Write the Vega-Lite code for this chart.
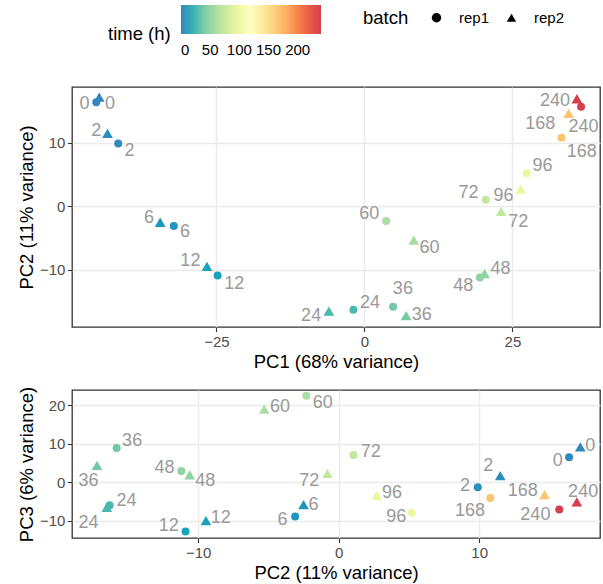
{
  "$schema": "https://vega.github.io/schema/vega-lite/v6.json",
  "padding": {"left": 16, "top": 5, "right": 3, "bottom": 0},
  "config": {
    "font": "Liberation Sans",
    "view": {"stroke": "#333333", "strokeWidth": 1.3},
    "axis": {
      "domain": false, "gridColor": "#EBEBEB", "labelFontSize": 15, "labelColor": "#4D4D4D",
      "titleFontSize": 18.5, "titleFontWeight": "normal", "titleColor": "#000000",
      "tickColor": "#333333", "tickSize": 4.6, "tickWidth": 1.1, "labelPadding": 2.5, "titlePadding": 3,
      "labelOverlap": false, "gridWidth": 1.4
    },
    "legend": {"padding": 0, "titleFontSize": 18.5, "titleFontWeight": "normal", "titleColor": "#000000", "labelFontSize": 15, "labelColor": "#000000"}
  },
  "datasets": {
    "pca": [
      {"time": 0, "batch": "rep1", "PC1": -45.3, "PC2": 16.4, "PC3": 6.5, "L1x": -47.3, "L1y": 16.1, "L2x": 15.6, "L2y": 5.6},
      {"time": 2, "batch": "rep1", "PC1": -41.6, "PC2": 9.9, "PC3": -1.3, "L1x": -39.7, "L1y": 8.76, "L2x": 9.0, "L2y": -0.9},
      {"time": 6, "batch": "rep1", "PC1": -32.2, "PC2": -3.1, "PC3": -8.9, "L1x": -30.3, "L1y": -4.0, "L2x": -4.0, "L2y": -9.7},
      {"time": 12, "batch": "rep1", "PC1": -24.8, "PC2": -10.9, "PC3": -12.8, "L1x": -22.0, "L1y": -12.2, "L2x": -12.1, "L2y": -11.5},
      {"time": 24, "batch": "rep1", "PC1": -1.86, "PC2": -16.3, "PC3": -6.0, "L1x": 0.96, "L1y": -15.2, "L2x": -15.1, "L2y": -5.0},
      {"time": 36, "batch": "rep1", "PC1": 4.85, "PC2": -15.8, "PC3": 8.9, "L1x": 6.5, "L1y": -13.0, "L2x": -14.7, "L2y": 10.7},
      {"time": 48, "batch": "rep1", "PC1": 19.5, "PC2": -11.2, "PC3": 2.9, "L1x": 16.7, "L1y": -12.5, "L2x": -12.4, "L2y": 3.8},
      {"time": 60, "batch": "rep1", "PC1": 3.67, "PC2": -2.3, "PC3": 22.5, "L1x": 0.8, "L1y": -1.2, "L2x": -1.14, "L2y": 20.5},
      {"time": 72, "batch": "rep1", "PC1": 20.5, "PC2": 1.05, "PC3": 7.1, "L1x": 17.6, "L1y": 2.1, "L2x": 2.28, "L2y": 7.9},
      {"time": 96, "batch": "rep1", "PC1": 27.4, "PC2": 5.2, "PC3": -7.9, "L1x": 30.1, "L1y": 6.3, "L2x": 4.1, "L2y": -9.0},
      {"time": 168, "batch": "rep1", "PC1": 33.3, "PC2": 10.8, "PC3": -4.1, "L1x": 36.7, "L1y": 8.6, "L2x": 9.35, "L2y": -7.5},
      {"time": 240, "batch": "rep1", "PC1": 36.6, "PC2": 15.7, "PC3": -7.1, "L1x": 37.0, "L1y": 12.5, "L2x": 14.0, "L2y": -8.6},
      {"time": 0, "batch": "rep2", "PC1": -44.8, "PC2": 17.2, "PC3": 9.2, "L1x": -43.0, "L1y": 16.1, "L2x": 17.9, "L2y": 9.5},
      {"time": 2, "batch": "rep2", "PC1": -43.4, "PC2": 11.5, "PC3": 1.7, "L1x": -45.3, "L1y": 11.9, "L2x": 10.65, "L2y": 4.3},
      {"time": 6, "batch": "rep2", "PC1": -34.5, "PC2": -2.5, "PC3": -5.8, "L1x": -36.4, "L1y": -1.8, "L2x": -1.8, "L2y": -6.0},
      {"time": 12, "batch": "rep2", "PC1": -26.6, "PC2": -9.45, "PC3": -10.0, "L1x": -29.4, "L1y": -8.6, "L2x": -8.4, "L2y": -9.3},
      {"time": 24, "batch": "rep2", "PC1": -6.0, "PC2": -16.5, "PC3": -6.5, "L1x": -9.0, "L1y": -17.2, "L2x": -17.8, "L2y": -10.6},
      {"time": 36, "batch": "rep2", "PC1": 7.05, "PC2": -17.2, "PC3": 4.4, "L1x": 9.7, "L1y": -17.1, "L2x": -17.8, "L2y": 0.44},
      {"time": 48, "batch": "rep2", "PC1": 20.3, "PC2": -10.6, "PC3": 1.9, "L1x": 23.0, "L1y": -9.8, "L2x": -9.5, "L2y": 0.2},
      {"time": 60, "batch": "rep2", "PC1": 8.34, "PC2": -5.3, "PC3": 19.0, "L1x": 11.0, "L1y": -6.5, "L2x": -4.18, "L2y": 19.7},
      {"time": 72, "batch": "rep2", "PC1": 23.1, "PC2": -0.8, "PC3": 2.3, "L1x": 26.0, "L1y": -2.5, "L2x": -2.1, "L2y": 0.36},
      {"time": 96, "batch": "rep2", "PC1": 26.4, "PC2": 2.7, "PC3": -3.4, "L1x": 23.5, "L1y": 1.6, "L2x": 3.8, "L2y": -2.7},
      {"time": 168, "batch": "rep2", "PC1": 34.5, "PC2": 14.65, "PC3": -3.2, "L1x": 29.7, "L1y": 12.9, "L2x": 13.1, "L2y": -2.25},
      {"time": 240, "batch": "rep2", "PC1": 35.9, "PC2": 16.95, "PC3": -5.1, "L1x": 32.2, "L1y": 16.6, "L2x": 17.4, "L2y": -2.5}
    ]
  },
  "data": {"name": "pca"},
  "spacing": 13,
  "vconcat": [
    {
      "width": 528, "height": 240,
      "encoding": {
        "color": {"field": "time", "type": "quantitative", "title": "time (h)",
          "scale": {"type": "linear", "domain": [0, 30, 60, 90, 120, 150, 180, 210, 240],
            "range": ["#3288BD", "#66C2A5", "#ABDDA4", "#E6F598", "#FFFFBF", "#FEE08B", "#FDAE61", "#F46D43", "#D53E4F"]},
          "legend": {"orient": "none", "legendX": 36, "legendY": -82, "direction": "horizontal",
            "titleOrient": "left", "titlePadding": 10, "titleBaseline": "middle", "titleAnchor": "end",
            "gradientLength": 140, "gradientThickness": 29, "gradientStrokeWidth": 0,
            "values": [0, 50, 100, 150, 200], "labelOverlap": false, "labelOffset": 9}},
        "shape": {"field": "batch", "type": "nominal", "title": "batch",
          "scale": {"domain": ["rep1", "rep2"], "range": ["circle", "triangle-up"]},
          "legend": {"orient": "none", "legendX": 291, "legendY": -77, "direction": "horizontal",
            "titleOrient": "left", "titlePadding": 20, "symbolSize": 90, "symbolFillColor": "#000000",
            "symbolStrokeWidth": 0, "labelOffset": 15, "columnPadding": 14, "symbolOffset": 0}}
      },
      "layer": [
        {
          "transform": [{"filter": "datum.batch === 'rep1'"}],
          "mark": {"type": "point", "filled": true, "opacity": 1, "size": 64},
          "encoding": {
            "x": {"field": "PC1", "type": "quantitative", "title": "PC1 (68% variance)",
              "scale": {"domain": [-49.4, 39.8], "nice": false, "zero": false},
              "axis": {"values": [-25, 0, 25]}},
            "y": {"field": "PC2", "type": "quantitative", "title": "PC2 (11% variance)",
              "scale": {"domain": [-19.0, 18.8], "nice": false, "zero": false},
              "axis": {"values": [-10, 0, 10]}}
          }
        },
        {
          "transform": [{"filter": "datum.batch === 'rep2'"}],
          "mark": {"type": "point", "filled": true, "opacity": 1, "size": 115},
          "encoding": {
            "x": {"field": "PC1", "type": "quantitative", "axis": null},
            "y": {"field": "PC2", "type": "quantitative", "axis": null}
          }
        },
        {
          "mark": {"type": "text", "fontSize": 18, "color": "#999999", "baseline": "middle", "align": "center"},
          "encoding": {
            "x": {"field": "L1x", "type": "quantitative",
              "axis": {"values": [-37.5, -12.5, 12.5, 37.5], "labels": false, "ticks": false, "domain": false, "title": null, "gridWidth": 0.7}},
            "y": {"field": "L1y", "type": "quantitative",
              "axis": {"values": [-15, -5, 5, 15], "labels": false, "ticks": false, "domain": false, "title": null, "gridWidth": 0.7}},
            "text": {"field": "time", "type": "nominal"},
            "color": {"value": "#999999"},
            "shape": {"value": "circle"}
          }
        }
      ],
      "resolve": {"axis": {"x": "independent", "y": "independent"}}
    },
    {
      "width": 528, "height": 148,
      "encoding": {
        "color": {"field": "time", "type": "quantitative", "title": "time (h)"},
        "shape": {"field": "batch", "type": "nominal", "title": "batch"}
      },
      "layer": [
        {
          "transform": [{"filter": "datum.batch === 'rep1'"}],
          "mark": {"type": "point", "filled": true, "opacity": 1, "size": 64},
          "encoding": {
            "x": {"field": "PC2", "type": "quantitative", "title": "PC2 (11% variance)",
              "scale": {"domain": [-18.98, 18.6], "nice": false, "zero": false},
              "axis": {"values": [-10, 0, 10]}},
            "y": {"field": "PC3", "type": "quantitative", "title": "PC3 (6% variance)",
              "scale": {"domain": [-14.5, 24.0], "nice": false, "zero": false},
              "axis": {"values": [-10, 0, 10, 20]}}
          }
        },
        {
          "transform": [{"filter": "datum.batch === 'rep2'"}],
          "mark": {"type": "point", "filled": true, "opacity": 1, "size": 115},
          "encoding": {
            "x": {"field": "PC2", "type": "quantitative", "axis": null},
            "y": {"field": "PC3", "type": "quantitative", "axis": null}
          }
        },
        {
          "mark": {"type": "text", "fontSize": 18, "color": "#999999", "baseline": "middle", "align": "center"},
          "encoding": {
            "x": {"field": "L2x", "type": "quantitative",
              "axis": {"values": [-15, -5, 5, 15], "labels": false, "ticks": false, "domain": false, "title": null, "gridWidth": 0.7}},
            "y": {"field": "L2y", "type": "quantitative",
              "axis": {"values": [-5, 5, 15], "labels": false, "ticks": false, "domain": false, "title": null, "gridWidth": 0.7}},
            "text": {"field": "time", "type": "nominal"},
            "color": {"value": "#999999"},
            "shape": {"value": "circle"}
          }
        }
      ],
      "resolve": {"axis": {"x": "independent", "y": "independent"}}
    }
  ],
  "resolve": {"scale": {"x": "independent", "y": "independent"}}
}
